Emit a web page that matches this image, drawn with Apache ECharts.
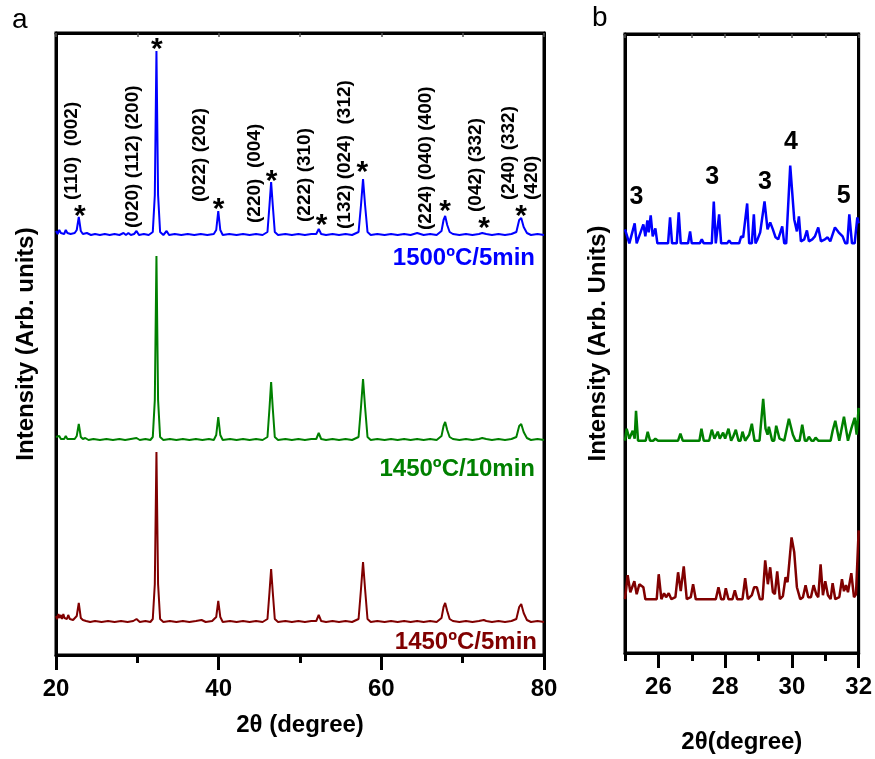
<!DOCTYPE html>
<html>
<head>
  <meta charset="utf-8">
  <title>XRD</title>
  <script src="https://cdn.jsdelivr.net/npm/echarts@6/dist/echarts.min.js"></script>
</head>
<style>
  * { padding: 0; margin: 0; }
  #main { width: 875px; height: 759px; background: #fff; }
</style>
<body>
  <div id="main"></div>
  <script type="text/javascript">
    var FONT = 'Arial, "Liberation Sans", sans-serif';
    var BLUE = '#0000ff', GREEN = '#008000', RED = '#800000';

    // panel a: [2theta, intensity above own baseline]
    var blueA = [[20.0,4],[20.2,1],[20.4,5],[20.6,2],[20.8,4],[21.0,1],[21.2,5],[21.4,2],[21.6,4],[21.8,1],[22.0,3],[22.3,2],[22.55,5],[22.8,18],[23.05,4],[23.3,1],[23.8,2],[24.3,0],[24.8,1],[25.4,0],[26.0,1],[26.6,0],[27.2,1],[27.8,0],[28.3,2],[28.6,0],[28.9,2],[29.2,0],[29.6,1],[29.9,4],[30.2,0],[30.8,1],[31.4,0],[31.9,3],[32.15,40],[32.35,184],[32.55,40],[32.8,3],[33.2,0],[33.6,4],[33.9,0],[34.6,1],[35.4,0],[36.2,1],[37.0,0],[37.8,1],[38.6,0],[39.4,1],[39.7,5],[39.95,24],[40.2,5],[40.5,0],[41.3,1],[42.2,0],[43.0,1],[43.8,0],[44.6,1],[45.4,0],[46.0,3],[46.25,30],[46.45,53],[46.65,30],[46.9,3],[47.3,0],[48.2,1],[49.0,0],[49.8,1],[50.6,0],[51.4,1],[52.0,1],[52.3,6],[52.6,1],[53.2,0],[54.0,1],[54.8,0],[55.6,1],[56.4,0],[57.2,3],[57.5,30],[57.75,56],[58.0,30],[58.3,3],[58.7,0],[59.5,1],[60.4,0],[61.2,1],[62.0,0],[62.8,1],[63.6,0],[64.4,2],[65.2,0],[66.0,1],[66.8,0],[67.4,4],[67.65,15],[67.85,19],[68.1,10],[68.4,3],[68.8,1],[69.6,0],[70.4,1],[71.2,0],[72.0,1],[72.4,2],[72.6,4],[72.9,1],[73.6,0],[74.4,1],[75.2,0],[76.0,1],[76.6,3],[76.95,15],[77.2,17],[77.5,8],[77.9,2],[78.4,0],[79.2,1],[80.0,0]];
    var greenA = [[20.0,3],[20.2,1],[20.4,4],[20.6,1],[20.8,3],[21.0,1],[21.2,4],[21.4,1],[21.6,3],[21.8,1],[22.0,2],[22.3,1],[22.55,4],[22.8,16],[23.05,3],[23.3,1],[23.6,2],[24.0,0],[24.6,1],[25.4,0],[26.2,1],[27.0,0],[27.8,1],[28.5,0],[29.2,1],[29.9,2],[30.3,0],[31.0,1],[31.6,0],[31.9,3],[32.15,40],[32.35,184],[32.55,40],[32.8,3],[33.2,0],[34.0,1],[34.8,0],[35.6,1],[36.4,0],[37.2,1],[38.0,0],[38.8,1],[39.4,0],[39.7,5],[39.95,23],[40.2,5],[40.5,0],[41.4,1],[42.2,0],[43.0,1],[43.8,0],[44.6,1],[45.4,0],[46.0,3],[46.25,32],[46.45,58],[46.65,32],[46.9,3],[47.3,0],[48.2,1],[49.0,0],[49.8,1],[50.6,0],[51.4,1],[52.0,1],[52.3,7],[52.6,1],[53.2,0],[54.0,1],[54.8,0],[55.6,1],[56.4,0],[57.2,3],[57.5,33],[57.75,61],[58.0,33],[58.3,3],[58.7,0],[59.5,1],[60.4,0],[61.2,1],[62.0,0],[62.8,1],[63.6,0],[64.4,1],[65.2,0],[66.0,1],[66.8,0],[67.4,4],[67.65,14],[67.85,18],[68.1,10],[68.4,3],[68.8,1],[69.6,0],[70.4,1],[71.2,0],[72.0,1],[72.4,2],[72.6,3],[72.9,1],[73.6,0],[74.4,1],[75.2,0],[76.0,1],[76.6,3],[76.95,14],[77.2,16],[77.5,8],[77.9,2],[78.4,0],[79.2,1],[80.0,0]];
    var redA = [[20.0,6],[20.15,3],[20.3,8],[20.45,4],[20.6,7],[20.75,3],[20.9,8],[21.05,4],[21.2,6],[21.35,3],[21.5,7],[21.7,3],[21.9,5],[22.1,2],[22.3,4],[22.55,6],[22.8,19],[23.05,4],[23.3,2],[23.7,1],[24.2,0],[24.8,1],[25.6,0],[26.4,1],[27.2,0],[28.0,1],[28.8,0],[29.5,1],[29.9,3],[30.3,0],[31.0,1],[31.6,0],[31.9,3],[32.15,38],[32.35,170],[32.55,38],[32.8,3],[33.2,0],[34.0,1],[34.8,0],[35.6,1],[36.4,0],[37.2,1],[37.9,2],[38.4,0],[39.2,1],[39.7,5],[39.95,21],[40.2,5],[40.5,0],[41.4,1],[42.2,0],[43.0,1],[43.8,0],[44.6,1],[45.4,0],[46.0,3],[46.25,30],[46.45,53],[46.65,30],[46.9,3],[47.3,0],[48.2,1],[49.0,0],[49.8,1],[50.6,0],[51.4,1],[52.0,1],[52.3,7],[52.6,1],[53.2,0],[54.0,1],[54.8,0],[55.6,1],[56.4,0],[57.2,3],[57.5,33],[57.75,60],[58.0,33],[58.3,3],[58.7,0],[59.5,1],[60.4,0],[61.2,1],[62.0,0],[62.8,1],[63.6,0],[64.4,1],[65.2,0],[66.0,1],[66.8,0],[67.4,4],[67.65,15],[67.85,19],[68.1,11],[68.4,3],[68.8,1],[69.6,0],[70.4,1],[71.2,0],[72.0,1],[72.6,2],[72.9,1],[73.6,0],[74.4,1],[75.2,0],[76.0,1],[76.6,3],[76.95,15],[77.2,18],[77.5,9],[77.9,2],[78.4,0],[79.2,1],[80.0,0]];
    var offsetA = { blue: 420, green: 215, red: 33 };

    // panel b: zoom 25-32
    var blueB = [[25.0,14],[25.05,14],[25.13,0],[25.29,20],[25.35,0],[25.55,19],[25.61,7],[25.67,23],[25.71,11],[25.77,28],[25.83,7],[25.91,15],[25.97,0],[26.29,0],[26.35,26],[26.41,0],[26.55,0],[26.61,31],[26.67,0],[26.89,0],[26.95,12],[27.0,0],[27.24,0],[27.3,4],[27.36,0],[27.6,0],[27.66,42],[27.72,0],[27.76,0],[27.82,29],[27.88,0],[28.06,0],[28.12,3],[28.18,0],[28.42,0],[28.48,7],[28.54,6],[28.66,40],[28.72,0],[28.8,0],[28.86,29],[28.91,0],[28.97,4],[29.05,11],[29.18,42],[29.27,14],[29.35,21],[29.43,14],[29.51,6],[29.59,4],[29.71,17],[29.77,0],[29.83,0],[29.95,78],[30.07,24],[30.15,12],[30.21,27],[30.27,2],[30.37,4],[30.45,13],[30.51,2],[30.61,4],[30.69,7],[30.79,16],[30.87,2],[30.99,4],[31.07,6],[31.15,2],[31.29,16],[31.4,11],[31.52,7],[31.6,0],[31.66,0],[31.72,29],[31.8,0],[31.88,0],[31.96,26],[32.0,20]];
    var greenB = [[25.0,0],[25.05,12],[25.13,2],[25.23,10],[25.29,2],[25.33,30],[25.39,0],[25.62,0],[25.68,9],[25.75,0],[25.85,0],[25.91,2],[25.99,0],[26.59,0],[26.66,7],[26.73,0],[27.23,0],[27.29,12],[27.36,0],[27.52,0],[27.6,11],[27.68,2],[27.78,9],[27.84,2],[27.94,8],[28.0,2],[28.1,12],[28.18,0],[28.24,4],[28.32,11],[28.4,0],[28.46,0],[28.52,9],[28.6,0],[28.72,6],[28.8,17],[28.88,0],[29.03,0],[29.14,42],[29.21,12],[29.27,6],[29.31,14],[29.41,0],[29.47,0],[29.53,15],[29.63,2],[29.77,0],[29.91,22],[30.03,6],[30.11,0],[30.23,0],[30.31,16],[30.39,0],[30.45,0],[30.51,4],[30.59,0],[30.65,0],[30.71,3],[30.79,0],[31.16,0],[31.22,10],[31.3,20],[31.42,0],[31.56,24],[31.68,0],[31.78,12],[31.88,23],[31.94,6],[32.0,33]];
    var redB = [[25.0,0],[25.08,24],[25.16,7],[25.28,18],[25.35,5],[25.43,15],[25.55,12],[25.61,0],[25.95,0],[26.01,25],[26.09,0],[26.17,6],[26.23,2],[26.31,6],[26.39,0],[26.51,2],[26.59,27],[26.67,8],[26.76,33],[26.85,0],[26.97,2],[27.04,15],[27.12,0],[27.72,0],[27.8,12],[27.88,0],[27.96,0],[28.02,11],[28.1,0],[28.22,0],[28.29,9],[28.36,0],[28.52,0],[28.6,21],[28.68,0],[28.8,4],[28.87,12],[28.95,12],[29.04,0],[29.12,0],[29.2,39],[29.28,15],[29.35,32],[29.43,7],[29.49,5],[29.56,28],[29.64,0],[29.73,3],[29.81,22],[29.87,17],[29.99,62],[30.07,47],[30.15,12],[30.25,0],[30.33,2],[30.41,14],[30.49,2],[30.57,2],[30.65,14],[30.73,5],[30.79,2],[30.86,35],[30.93,4],[31.0,18],[31.08,4],[31.16,0],[31.22,16],[31.3,0],[31.42,2],[31.5,20],[31.56,8],[31.62,14],[31.68,7],[31.78,26],[31.86,2],[31.92,5],[32.0,69]];
    var offsetB = { blue: 411, green: 213, red: 54 };

    // annotations
    var hklLabels = ['(110)  (002)', '(020) (112) (200)', '(022) (202)', '(220)  (004)', '(222) (310)', '(132) (024)  (312)', '(224) (040) (400)', '(042) (332)', '(240) (332)', '(420)'];
    var hklPos = [[21.96,455],[29.45,427],[37.67,453],[44.42,432],[50.55,433],[55.46,426],[65.52,425],[71.66,443],[75.71,455],[78.53,455]];
    var starPos = [[22.94,445],[32.39,612],[40.0,452],[46.5,480],[52.64,436],[57.67,489],[67.85,450],[72.64,433],[77.18,445]];
    var bLabels = ['3', '3', '3', '4', '5'];
    var bLabelPos = [[25.34,457],[27.61,477],[29.19,472],[29.97,513],[31.55,458]];

    function shift(arr, off) {
      return arr.map(function (p) { return [p[0], p[1] + off]; });
    }

    var boldLabel = { fontFamily: FONT, fontWeight: 'bold', fontSize: 24, color: '#000' };
    var hidden = { color: 'rgba(0,0,0,0)', opacity: 1 };

    function lineSeries(data, color, xi, yi, w) {
      return {
        type: 'line', xAxisIndex: xi, yAxisIndex: yi, data: data,
        showSymbol: false, symbol: 'none', smooth: false, silent: true,
        lineStyle: { color: color, width: w }
      };
    }

    var option = {
      animation: false,
      grid: [
        { left: 56, right: 331, top: 33, bottom: 104, show: true, borderColor: '#000', borderWidth: 3 },
        { left: 625, right: 15, top: 34, bottom: 104, show: true, borderColor: '#000', borderWidth: 3 }
      ],
      xAxis: [
        {
          gridIndex: 0, type: 'value', min: 20, max: 80, interval: 20, position: 'bottom',
          axisLine: { onZero: false, lineStyle: { color: '#000', width: 3 } },
          axisTick: { length: 15, lineStyle: { width: 3 } },
          minorTick: { show: true, splitNumber: 2, length: 8, lineStyle: { color: '#000', width: 3 } },
          splitLine: { show: false },
          axisLabel: Object.assign({ margin: 22 }, boldLabel),
          name: '2\u03B8 (degree)', nameLocation: 'middle', nameGap: 58,
          nameTextStyle: boldLabel
        },
        {
          gridIndex: 0, type: 'value', min: 20, max: 80, interval: 10, position: 'top',
          axisLine: { onZero: false, lineStyle: { color: '#000', width: 3 } },
          axisTick: { inside: true, length: 4, lineStyle: { width: 1.5, color: '#555' } },
          axisLabel: { show: false }, splitLine: { show: false }
        },
        {
          gridIndex: 1, type: 'value', min: 25, max: 32, position: 'bottom',
          axisLine: { onZero: false, lineStyle: { color: '#000', width: 3 } },
          axisTick: { length: 15, customValues: [26, 28, 30, 32], lineStyle: { width: 3 } },
          splitLine: { show: false },
          axisLabel: Object.assign({ margin: 22, customValues: [26, 28, 30, 32] }, boldLabel),
          name: '2\u03B8(degree)', nameLocation: 'middle', nameGap: 77,
          nameTextStyle: boldLabel
        },
        {
          gridIndex: 1, type: 'value', min: 25, max: 32, interval: 1, position: 'bottom',
          axisLine: { show: false, onZero: false },
          axisTick: { length: 8, lineStyle: { width: 3, color: '#000' } },
          axisLabel: { show: false }, splitLine: { show: false }
        },
        {
          gridIndex: 1, type: 'value', min: 25, max: 32, interval: 1, position: 'top',
          axisLine: { onZero: false, lineStyle: { color: '#000', width: 3 } },
          axisTick: { inside: true, length: 4, lineStyle: { width: 1.5, color: '#555' } },
          axisLabel: { show: false }, splitLine: { show: false }
        }
      ],
      yAxis: [
        {
          gridIndex: 0, type: 'value', min: 0, max: 622, position: 'left',
          axisLine: { show: true, onZero: false, lineStyle: { color: '#000', width: 3 } },
          axisTick: { show: false }, axisLabel: { show: false }, splitLine: { show: false },
          name: 'Intensity (Arb. units)', nameLocation: 'middle', nameGap: 18,
          nameTextStyle: boldLabel
        },
        {
          gridIndex: 0, type: 'value', min: 0, max: 622, position: 'right',
          axisLine: { show: true, onZero: false, lineStyle: { color: '#000', width: 3 } },
          axisTick: { show: false }, axisLabel: { show: false }, splitLine: { show: false }
        },
        {
          gridIndex: 1, type: 'value', min: 0, max: 621, position: 'left',
          axisLine: { show: true, onZero: false, lineStyle: { color: '#000', width: 3 } },
          axisTick: { show: false }, axisLabel: { show: false }, splitLine: { show: false },
          name: 'Intensity (Arb. Units)', nameLocation: 'middle', nameGap: 15,
          nameTextStyle: boldLabel
        },
        {
          gridIndex: 1, type: 'value', min: 0, max: 621, position: 'right',
          axisLine: { show: true, onZero: false, lineStyle: { color: '#000', width: 3 } },
          axisTick: { show: false }, axisLabel: { show: false }, splitLine: { show: false }
        }
      ],
      series: [
        lineSeries(shift(blueA, offsetA.blue), BLUE, 0, 0, 2),
        lineSeries(shift(greenA, offsetA.green), GREEN, 0, 0, 2),
        lineSeries(shift(redA, offsetA.red), RED, 0, 0, 2),
        lineSeries(shift(blueB, offsetB.blue), BLUE, 2, 2, 2.5),
        lineSeries(shift(greenB, offsetB.green), GREEN, 2, 2, 2.5),
        lineSeries(shift(redB, offsetB.red), RED, 2, 2, 2.5),
        {
          type: 'scatter', xAxisIndex: 0, yAxisIndex: 0, symbolSize: 1, silent: true,
          itemStyle: hidden,
          data: hklPos.map(function (p, i) { return { value: p, name: hklLabels[i] }; }),
          label: {
            show: true, position: 'inside', rotate: 90, align: 'left', verticalAlign: 'middle',
            formatter: '{b}', fontFamily: FONT, fontWeight: 'bold', fontSize: 19, color: '#000',
            textBorderWidth: 0
          }
        },
        {
          type: 'scatter', xAxisIndex: 0, yAxisIndex: 0, symbolSize: 1, silent: true,
          itemStyle: hidden,
          data: starPos.map(function (p) { return { value: [p[0], p[1] - 7] }; }),
          label: {
            show: true, position: 'inside', formatter: '*', align: 'center', verticalAlign: 'middle',
            fontFamily: FONT, fontWeight: 'bold', fontSize: 30, color: '#000', textBorderWidth: 0
          }
        },
        {
          type: 'scatter', xAxisIndex: 2, yAxisIndex: 2, symbolSize: 1, silent: true,
          itemStyle: hidden,
          data: bLabelPos.map(function (p, i) { return { value: p, name: bLabels[i] }; }),
          label: {
            show: true, position: 'inside', formatter: '{b}', align: 'center', verticalAlign: 'middle',
            fontFamily: FONT, fontWeight: 'bold', fontSize: 25, color: '#000', textBorderWidth: 0
          }
        }
      ],
      graphic: [
        { type: 'text', left: 12, top: 6, style: { text: 'a', font: '28px ' + FONT, fill: '#000' } },
        { type: 'text', left: 592, top: 4, style: { text: 'b', font: '28px ' + FONT, fill: '#000' } },
        { type: 'text', x: 535, y: 258, style: { text: '1500\u00BAC/5min', align: 'right', verticalAlign: 'middle', font: 'bold 24px ' + FONT, fill: BLUE } },
        { type: 'text', x: 535, y: 469, style: { text: '1450\u00BAC/10min', align: 'right', verticalAlign: 'middle', font: 'bold 24px ' + FONT, fill: GREEN } },
        { type: 'text', x: 537, y: 642, style: { text: '1450\u00BAC/5min', align: 'right', verticalAlign: 'middle', font: 'bold 24px ' + FONT, fill: RED } }
      ]
    };

    var myChart = echarts.init(document.getElementById('main'));
    myChart.setOption(option);
  </script>
</body>
</html>
